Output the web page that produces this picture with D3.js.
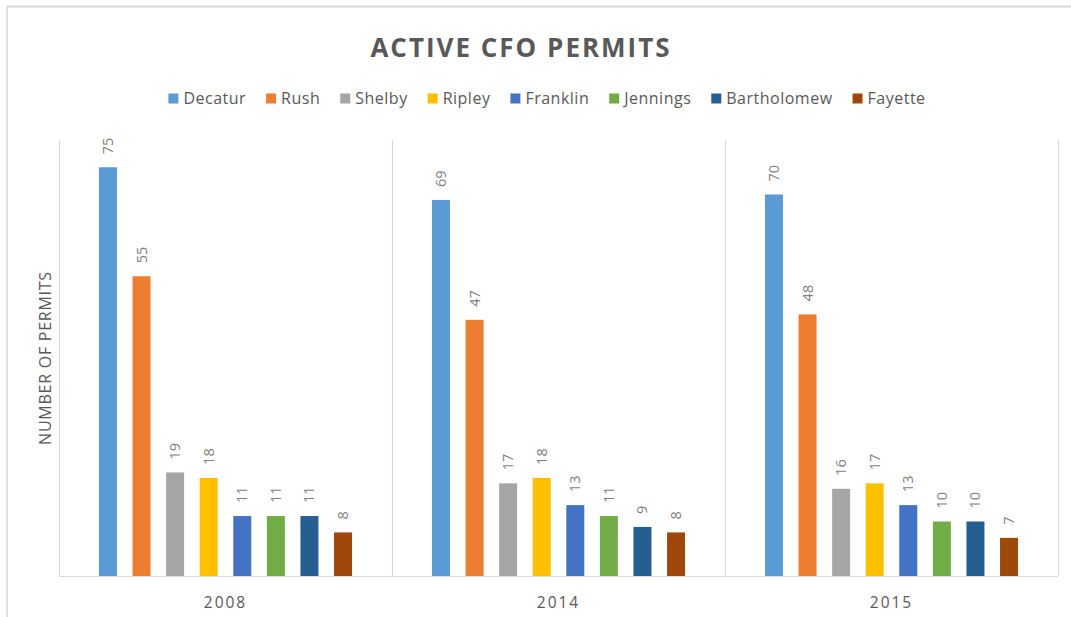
<!DOCTYPE html>
<html>
<head>
<meta charset="utf-8">
<script src="https://cdn.jsdelivr.net/npm/d3@7.9.0/dist/d3.min.js"></script>
<style>
  body { margin: 0; background: #fff; }
  svg { display: block; font-family: "Open Sans", sans-serif; }
</style>
</head>
<body>
<svg id="chart" width="1071" height="617"></svg>
<script>
// chart data
const years = ['2008', '2014', '2015'];
const counties = ['Decatur', 'Rush', 'Shelby', 'Ripley', 'Franklin', 'Jennings', 'Bartholomew', 'Fayette'];
const permits2008 = [75, 55, 19, 18, 11, 11, 11, 8];
const permits2014 = [69, 47, 17, 18, 13, 11, 9, 8];
const permits2015 = [70, 48, 16, 17, 13, 10, 10, 7];
const colors = ['#5B9BD5', '#ED7D31', '#A5A5A5', '#FFC000', '#4472C4', '#70AD47', '#255E91', '#9E480E'];

const values = [permits2008, permits2014, permits2015];
const data = years.map((y, i) => ({
  year: y,
  bars: counties.map((c, j) => ({ county: c, value: values[i][j] }))
}));

const svg = d3.select('#chart');
const margin = { top: 140, left: 59, right: 13, bottom: 41 };
const W = 1071, H = 617;

// outer chart frame (only top/left edges visible in crop)
svg.append('line').attr('x1', 7).attr('x2', W).attr('y1', 6.5).attr('y2', 6.5)
  .attr('stroke', '#d9d9d9').attr('stroke-width', 2);
svg.append('line').attr('x1', 7).attr('x2', 7).attr('y1', 6).attr('y2', H)
  .attr('stroke', '#d9d9d9').attr('stroke-width', 1.5);

const x0 = d3.scaleBand().domain(years).range([margin.left, W - margin.right]).padding(0);
const x1 = d3.scaleBand().domain(counties).range([0, x0.bandwidth()])
  .paddingInner(0.464).paddingOuter(1.19);
const y = d3.scaleLinear().domain([0, 80]).range([H - margin.bottom, margin.top]);

// plot frame: left, right, separators and baseline
const plot = svg.append('g');
const bounds = years.map(d => x0(d)).concat([x0(years[years.length - 1]) + x0.bandwidth()]);
plot.selectAll('line.sep').data(bounds).join('line')
  .attr('class', 'sep')
  .attr('x1', d => d + 0.5).attr('x2', d => d + 0.5)
  .attr('y1', y(80)).attr('y2', y(0))
  .attr('stroke', '#d9d9d9').attr('stroke-width', 1.2);
plot.append('line')
  .attr('x1', x0.range()[0]).attr('x2', x0.range()[1])
  .attr('y1', y(0) + 0.5).attr('y2', y(0) + 0.5)
  .attr('stroke', '#d9d9d9').attr('stroke-width', 1.2);

const groups = svg.selectAll('g.year').data(data).join('g')
  .attr('class', 'year')
  .attr('transform', d => `translate(${x0(d.year)},0)`);

groups.selectAll('rect').data(d => d.bars).join('rect')
  .attr('x', d => x1(d.county))
  .attr('width', x1.bandwidth())
  .attr('y', d => y(d.value))
  .attr('height', d => y(0) - y(d.value))
  .attr('fill', (d, i) => colors[i]);

// rotated data labels
groups.selectAll('text.lbl').data(d => d.bars).join('text')
  .attr('class', 'lbl')
  .attr('transform', d => `translate(${x1(d.county) + x1.bandwidth() / 2 + 5},${y(d.value) - 13}) rotate(-90)`)
  .attr('text-anchor', 'start')
  .attr('font-size', 14.5)
  .attr('fill', '#7f7f7f')
  .text(d => d.value);

// category labels
svg.append('g').selectAll('text').data(years).join('text')
  .attr('x', d => x0(d) + x0.bandwidth() / 2)
  .attr('y', y(0) + 32)
  .attr('text-anchor', 'middle')
  .attr('font-size', 15.5)
  .attr('letter-spacing', 2)
  .attr('fill', '#595959')
  .text(d => d);

// y axis title
svg.append('text')
  .attr('transform', `translate(51,358) rotate(-90)`)
  .attr('text-anchor', 'middle')
  .attr('font-size', 16)
  .attr('letter-spacing', 0.75)
  .attr('fill', '#595959')
  .text('NUMBER OF PERMITS');

// title
svg.append('text')
  .attr('x', 521).attr('y', 57)
  .attr('text-anchor', 'middle')
  .attr('font-size', 26)
  .attr('font-weight', 'bold')
  .attr('letter-spacing', 2)
  .attr('fill', '#595959')
  .text('ACTIVE CFO PERMITS');

// legend
const legend = svg.append('g');
const items = legend.selectAll('g').data(counties).join('g');
items.append('rect').attr('width', 10).attr('height', 10).attr('y', -10.5)
  .attr('fill', (d, i) => colors[i]);
items.append('text').attr('x', 15).attr('y', 0)
  .attr('font-size', 16).attr('letter-spacing', 0.5)
  .attr('fill', '#595959').text(d => d);
let cx = 0;
items.each(function () {
  const w = this.querySelector('text').getComputedTextLength() + 15;
  d3.select(this).attr('transform', `translate(${cx},104)`);
  cx += w + 20;
});
const legendWidth = cx - 20;
legend.attr('transform', `translate(${547 - legendWidth / 2},0)`);
</script>
</body>
</html>
